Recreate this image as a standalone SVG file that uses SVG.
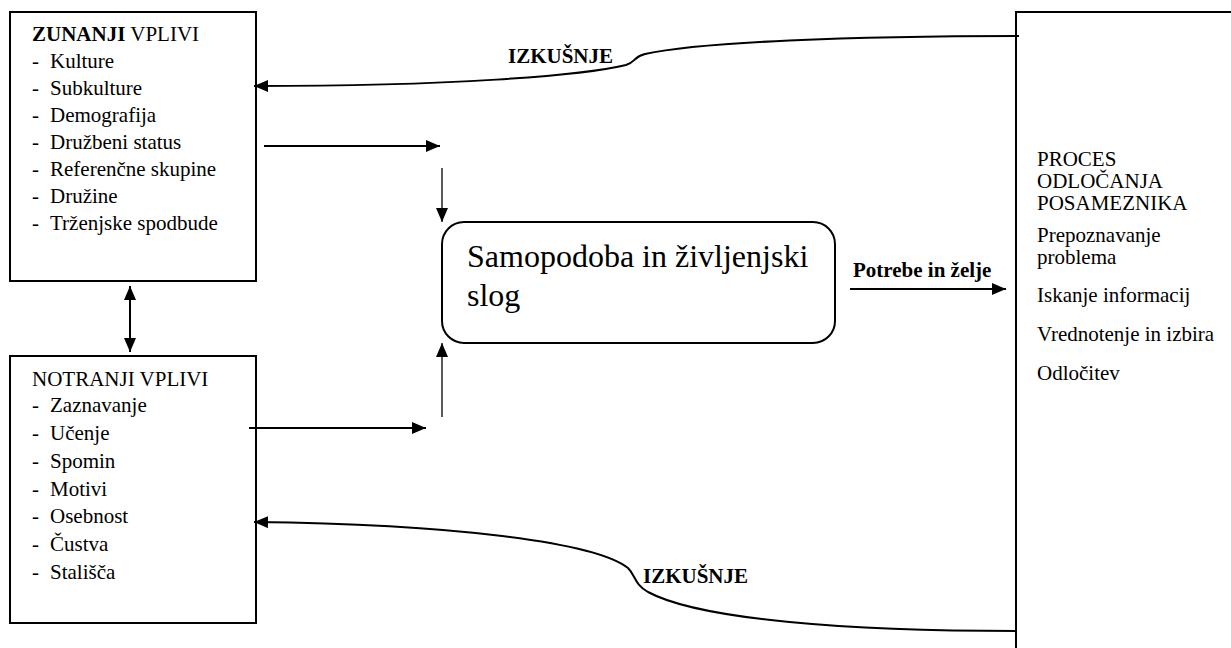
<svg xmlns="http://www.w3.org/2000/svg" width="1231" height="648" viewBox="0 0 1231 648">
<style>
text{font-family:"Liberation Serif","Times New Roman",serif;font-weight:400;fill:#000;font-size:21px}
.b{font-weight:700}
.big{font-size:32px}
.box{fill:#fff;stroke:#000;stroke-width:2}
.ln{fill:none;stroke:#000;stroke-width:2}
.thin{fill:none;stroke:#000;stroke-width:1.3}
</style>
<defs>
<marker id="ah" markerUnits="userSpaceOnUse" markerWidth="15" markerHeight="12" refX="14" refY="6" orient="auto-start-reverse">
<path d="M0,0 L14,6 L0,12 z" fill="#000"/>
</marker>
</defs>
<rect width="1231" height="648" fill="#fff"/>

<g id="zunanji">
<rect class="box" x="10" y="12" width="246" height="269"/>
<text x="32" y="41"><tspan class="b">ZUNANJI</tspan> VPLIVI</text>
<text x="32" y="68">-<tspan x="50">Kulture</tspan></text>
<text x="32" y="95">-<tspan x="50">Subkulture</tspan></text>
<text x="32" y="122">-<tspan x="50">Demografija</tspan></text>
<text x="32" y="149">-<tspan x="50">Družbeni status</tspan></text>
<text x="32" y="176">-<tspan x="50">Referenčne skupine</tspan></text>
<text x="32" y="203">-<tspan x="50">Družine</tspan></text>
<text x="32" y="230">-<tspan x="50">Trženjske spodbude</tspan></text>
</g>

<g id="notranji">
<rect class="box" x="10" y="356" width="246" height="267"/>
<text x="32" y="386">NOTRANJI VPLIVI</text>
<text x="32" y="412">-<tspan x="50">Zaznavanje</tspan></text>
<text x="32" y="440">-<tspan x="50">Učenje</tspan></text>
<text x="32" y="468">-<tspan x="50">Spomin</tspan></text>
<text x="32" y="496">-<tspan x="50">Motivi</tspan></text>
<text x="32" y="523">-<tspan x="50">Osebnost</tspan></text>
<text x="32" y="551">-<tspan x="50">Čustva</tspan></text>
<text x="32" y="579">-<tspan x="50">Stališča</tspan></text>
</g>

<g id="samopodoba">
<rect class="box" x="442" y="222" width="393" height="121" rx="22" ry="22"/>
<text class="big" x="467" y="267">Samopodoba in življenjski</text>
<text class="big" x="467" y="306">slog</text>
</g>

<g id="proces">
<rect class="box" x="1016" y="12" width="240" height="660"/>
<text x="1037" y="166">PROCES</text>
<text x="1037" y="188">ODLOČANJA</text>
<text x="1037" y="210">POSAMEZNIKA</text>
<text x="1037" y="242">Prepoznavanje</text>
<text x="1037" y="264">problema</text>
<text x="1037" y="302">Iskanje informacij</text>
<text x="1037" y="341">Vrednotenje in izbira</text>
<text x="1037" y="380">Odločitev</text>
</g>

<g id="connectors">
<path class="ln" d="M1019,36 C850,36 700,42 645,54 C633,57 636,62 626,65 C580,76 450,86 254,86" marker-end="url(#ah)"/>
<text class="b" x="508" y="63">IZKUŠNJE</text>
<line class="ln" x1="264" y1="146" x2="440" y2="146" marker-end="url(#ah)"/>
<line class="thin" x1="442" y1="168" x2="442" y2="222" marker-end="url(#ah)"/>
<line class="ln" x1="130" y1="286" x2="130" y2="352" marker-start="url(#ah)" marker-end="url(#ah)"/>
<line class="ln" x1="249" y1="428" x2="426" y2="428" marker-end="url(#ah)"/>
<line class="thin" x1="442" y1="417" x2="442" y2="343" marker-end="url(#ah)"/>
<line class="ln" x1="850" y1="289" x2="1006" y2="289" marker-end="url(#ah)"/>
<text class="b" x="853" y="277">Potrebe in želje</text>
<path class="ln" d="M1017,631 C850,631 700,620 648,592 C634,584 636,576 628,568 C595,542 450,524 254,522" marker-end="url(#ah)"/>
<text class="b" x="643" y="583">IZKUŠNJE</text>
</g>
</svg>
